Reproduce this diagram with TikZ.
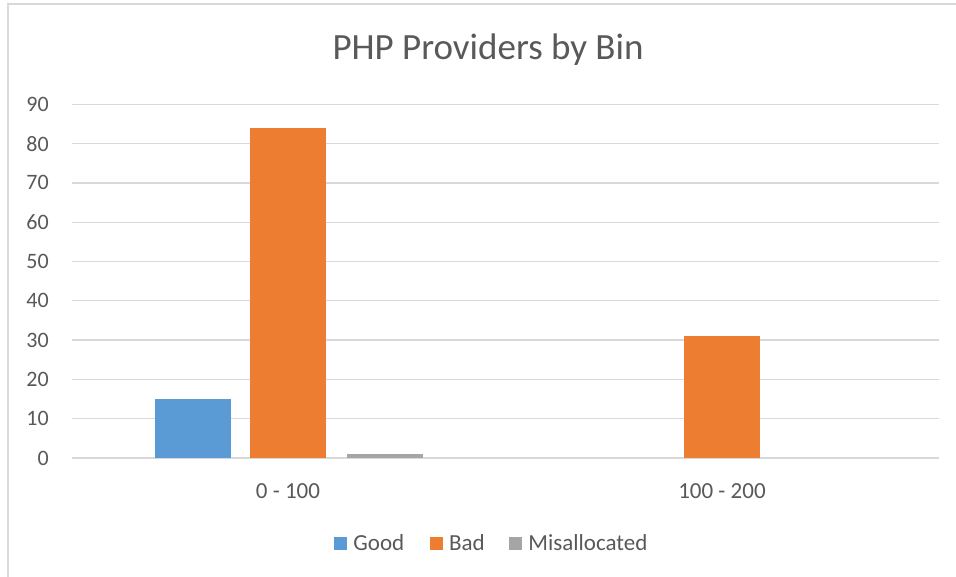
\documentclass[tikz,border=0pt]{standalone}
\usepackage{fontspec}
\setmainfont{Carlito}
\usetikzlibrary{positioning}
\definecolor{goodcol}{RGB}{91,155,213}
\definecolor{badcol}{RGB}{237,125,49}
\definecolor{misalloccol}{RGB}{165,165,165}
\definecolor{labelgray}{RGB}{89,89,89}
\definecolor{gridcol}{RGB}{217,217,217}
\definecolor{framecol}{RGB}{217,217,217}

\begin{document}
\begin{tikzpicture}[
    x=1pt, y=-1pt,
    gridline/.style={gridcol, line width=1.3pt},
    ticklabel/.style={text=labelgray, font=\fontsize{22}{26}\selectfont,
                      inner sep=0pt, anchor=east},
    catlabel/.style={text=labelgray, font=\fontsize{23}{27}\selectfont,
                     inner sep=0pt},
    legsq/.style={minimum size=13pt, inner sep=0pt},
    legtext/.style={text=labelgray, font=\fontsize{23}{27}\selectfont,
                    inner sep=0pt},
]

\useasboundingbox (0,0) rectangle (956,576);
\fill[white] (0,0) rectangle (956,576);

% ════════════════════════════════════════════════════════
% 0. FRAME AND TITLE
% ════════════════════════════════════════════════════════
\draw[framecol, line width=1.2pt] (8,590) -- (8,4) -- (970,4);

\node[text=labelgray, font=\fontsize{37}{44}\selectfont, inner sep=0pt]
    (title) at (488, 50) {PHP Providers by Bin};

% ════════════════════════════════════════════════════════
% 1. GRID AND VALUE AXIS
% ════════════════════════════════════════════════════════
\foreach \v in {0,10,...,90}{
    \draw[gridline] (72, 458-3.93*\v) -- (939, 458-3.93*\v);
    \node[ticklabel] (tick\v) at (49, 458-3.93*\v) {\v};
}

% ════════════════════════════════════════════════════════
% 2. BARS
% ════════════════════════════════════════════════════════
% bin 0 - 100
\fill[goodcol]     (155, 458) rectangle (231, 458-3.93*15);
\fill[badcol]      (250, 458) rectangle (326, 458-3.93*84);
\fill[misalloccol] (347, 458) rectangle (423, 458-3.93*1);

% bin 100 - 200
\fill[badcol]      (684, 458) rectangle (760, 458-3.93*31);

% ════════════════════════════════════════════════════════
% 3. CATEGORY LABELS
% ════════════════════════════════════════════════════════
\node[catlabel] (bin1) at (288, 491) {0 - 100};
\node[catlabel] (bin2) at (722, 491) {100 - 200};

% ════════════════════════════════════════════════════════
% 4. LEGEND
% ════════════════════════════════════════════════════════
\node[legsq, fill=goodcol] (sqgood) at (340.5, 543) {};
\node[legtext, right=6pt of sqgood] (lgood) {Good};
\node[legsq, fill=badcol, right=25pt of lgood] (sqbad) {};
\node[legtext, right=6pt of sqbad] (lbad) {Bad};
\node[legsq, fill=misalloccol, right=24pt of lbad] (sqmis) {};
\node[legtext, right=6pt of sqmis] (lmis) {Misallocated};

\end{tikzpicture}
\end{document}
